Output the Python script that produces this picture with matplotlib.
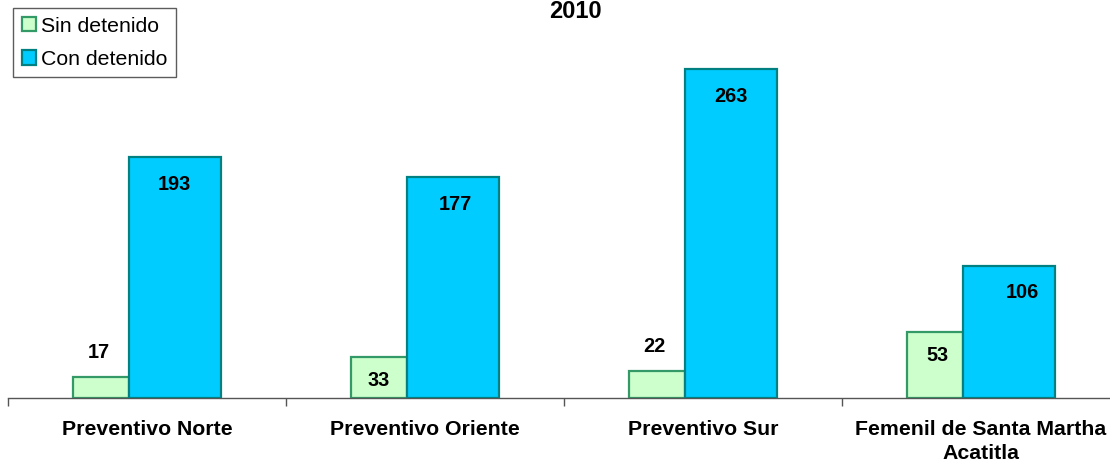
import matplotlib
matplotlib.use("Agg")
import matplotlib.pyplot as plt
from matplotlib.patches import Patch
import numpy as np

plt.rcParams['font.family'] = ['Liberation Sans', 'DejaVu Sans']

# Data
categories = ["Preventivo Norte", "Preventivo Oriente", "Preventivo Sur",
              "Femenil de Santa Martha\nAcatitla"]
sin_detenido = [17, 33, 22, 53]
con_detenido = [193, 177, 263, 106]
title = "2010"

green_fill, green_edge = "#CCFFCC", "#339966"
blue_fill, blue_edge = "#00CCFF", "#008080"

fig = plt.figure(figsize=(11.1, 4.67), dpi=100)
ax = fig.add_axes([8 / 1110, 69 / 467, 1112 / 1110, 375 / 467])

x = np.arange(len(categories))
ax.bar(x - 0.266, sin_detenido, width=0.201, align='edge',
       color=green_fill, edgecolor=green_edge, linewidth=1.6, zorder=2)
ax.bar(x - 0.065, con_detenido, width=0.331, align='edge',
       color=blue_fill, edgecolor=blue_edge, linewidth=1.6, zorder=3)

# value labels (Excel placed some above, some inside)
sin_side = [1, -1, 1, -1]
sin_dx = [-0.01, 0.0, -0.01, 0.01]
for i, v in enumerate(sin_detenido):
    ax.text(x[i] - 0.165 + sin_dx[i], v + 19 * sin_side[i], str(v),
            ha='center', va='center', fontsize=14.3, fontweight='bold', zorder=4)
con_dx = [0.0, 0.01, 0.0, 0.05]
for i, v in enumerate(con_detenido):
    ax.text(x[i] + 0.1 + con_dx[i], v - 22, str(v),
            ha='center', va='center', fontsize=14.3, fontweight='bold', zorder=4)

ax.set_xlim(-0.5, len(categories) - 0.5)
ax.set_ylim(0, 300)
ax.set_xticks(x)
ax.set_xticklabels(categories, fontsize=15.3, fontweight='bold', linespacing=1.3)
ax.set_xticks(np.arange(len(categories) + 1) - 0.5, minor=True)
ax.tick_params(axis='x', which='major', length=0, pad=16)
ax.tick_params(axis='x', which='minor', length=6, width=1, color='#555555',
               direction='out')
ax.set_yticks([])
for s in ['top', 'right', 'left']:
    ax.spines[s].set_visible(False)
ax.spines['bottom'].set_color('#555555')
ax.spines['bottom'].set_linewidth(1)

fig.text(575 / 1110, 1 - 17.5 / 467, title, ha='center', va='baseline',
         fontsize=17, fontweight='bold')

handles = [Patch(facecolor=green_fill, edgecolor=green_edge, linewidth=1.6),
           Patch(facecolor=blue_fill, edgecolor=blue_edge, linewidth=1.6)]
leg = fig.legend(handles, ["Sin detenido", "Con detenido"],
                 loc='upper left', bbox_to_anchor=(13 / 1110, 1 - 8 / 467),
                 fontsize=15.3, frameon=True, fancybox=False, borderpad=0.4,
                 handlelength=0.66, handleheight=0.66, handletextpad=0.24,
                 labelspacing=0.68, borderaxespad=0)
leg.get_frame().set_edgecolor('#333333')
leg.get_frame().set_linewidth(1)

fig.savefig("out.png", dpi=100)
